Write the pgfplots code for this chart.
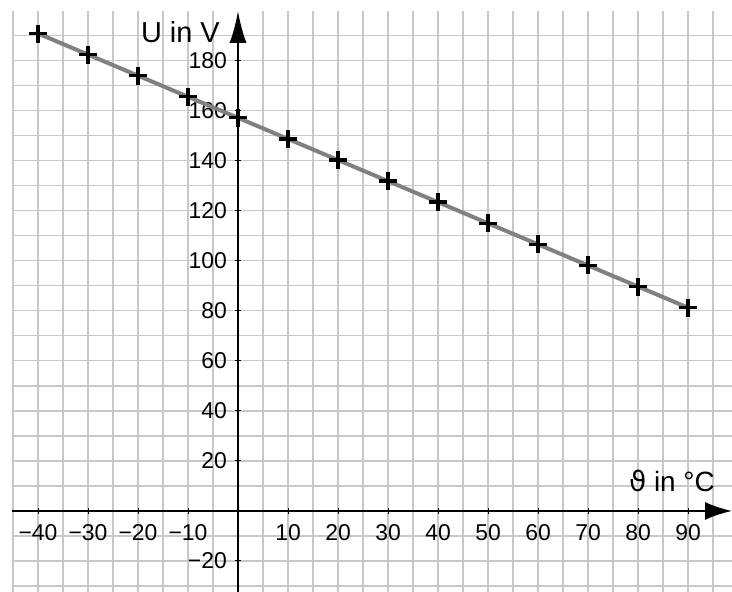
\documentclass[border=0pt]{standalone}
\usepackage{pgfplots}
\pgfplotsset{compat=1.18}
\usepackage{fontspec}
\setmainfont{Liberation Sans}
\newfontfamily\dejavu{DejaVu Sans}
\usetikzlibrary{arrows.meta}
\definecolor{gridgray}{RGB}{200,200,200}
\definecolor{linegray}{RGB}{128,128,128}
\begin{document}
\begin{tikzpicture}
\path[use as bounding box] (-12bp,0) rectangle (720bp,592bp);
\begin{axis}[
  at={(0,0)}, anchor=south west,
  scale only axis, width=720bp, height=581bp,
  xmin=-45.2, xmax=98.8, ymin=-32.4, ymax=199.9,
  axis lines=middle,
  x axis line style={line width=2bp, -{Latex[length=27bp,width=18bp]}},
  y axis line style={line width=2bp, -{Latex[length=32bp,width=17bp]}},
  xtick={-40,-30,...,90},
  xticklabels={−40,−30,−20,−10,,10,20,30,40,50,60,70,80,90},
  minor xtick={-45,-35,...,95},
  ytick={-20,0,...,180},
  yticklabels={−20,,20,40,60,80,100,120,140,160,180},
  minor ytick={-30,-10,...,190},
  grid=both,
  major grid style={gridgray, line width=1.2bp},
  minor grid style={gridgray, line width=1.2bp},
  tick style={black, line width=1bp},
  major tick length=6bp,
  minor tick length=0bp,
  xticklabel style={font=\fontsize{23}{23}\selectfont, anchor=north, inner sep=0pt, yshift=-10bp},
  yticklabel style={font=\fontsize{23}{23}\selectfont, anchor=east, inner sep=0pt, xshift=-8bp},
  clip=false,
]
\addplot[linegray, line width=4bp] coordinates {(-40,190.9) (90,81.3)};
\addplot[only marks, mark=+, mark size=9bp, black, mark options={line width=3.4bp}] coordinates {
(-40,190.9) (-30,182.5) (-20,174.0) (-10,165.6) (0,157.2) (10,148.7) (20,140.3)
(30,131.9) (40,123.5) (50,115.0) (60,106.6) (70,98.2) (80,89.7) (90,81.3)};
\node[anchor=base east, inner sep=0pt, font=\fontsize{29}{29}\selectfont] at (axis cs:-3.6,187.4) {U in V};
\node[anchor=base east, inner sep=0pt, font=\fontsize{28}{28}\selectfont] at (axis cs:95.4,7.8) {{\dejavu ϑ} in °C};
\end{axis}
\end{tikzpicture}
\end{document}
